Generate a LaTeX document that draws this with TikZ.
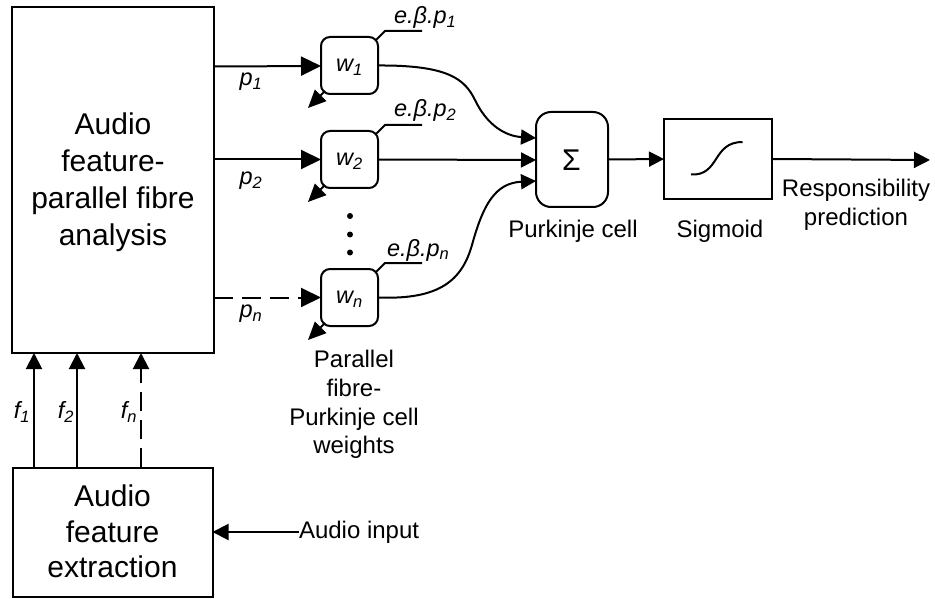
\documentclass[tikz,border=0pt]{standalone}
\usepackage{fontspec}
\setmainfont{Liberation Sans}
\usetikzlibrary{arrows.meta}
\tikzset{
  x=1pt,y=-1pt,
  every node/.style={inner sep=0pt,outer sep=0pt},
  box/.style={draw,line width=2pt,minimum width=#1},
  wbox/.style={draw,line width=2pt,rounded corners=9pt,minimum width=57pt,minimum height=57pt},
  plain/.style={line width=2pt},
  conn/.style={plain,-{Triangle[length=15pt,width=15pt]}},
  inarrow/.style={plain,-{Triangle[length=20pt,width=19pt]}},
  farrow/.style={plain,-{Triangle[length=16pt,width=16pt]}},
  smallarrow/.style={plain,-{Triangle[length=18pt,width=16pt]}},
  dashline/.style={dash pattern=on 19pt off 9pt},
  big/.style={font=\fontsize{30}{37}\selectfont,align=center},
  bigtwo/.style={font=\fontsize{30}{35.5}\selectfont,align=center},
  lab/.style={font=\fontsize{24}{28.7}\selectfont,align=center},
  sym/.style={font=\fontsize{23.5}{28}\selectfont\itshape},
}
\begin{document}
\begin{tikzpicture}
\useasboundingbox (0,0) rectangle (935,599);
\node[box=202pt,minimum height=346pt] (fa) at (113,180) {};
\node[big] at (113,182) {Audio\\feature-\\parallel fibre\\analysis};
\node[box=200pt,minimum height=129pt] (ex) at (112.5,532) {};
\node[bigtwo] at (112.5,531.5) {Audio\\feature\\extraction};
\node[wbox] (w1) at (349.5,65.5) {};
\node[sym] at (349.5,67) {w\textsubscript{1}};
\node[wbox] (w2) at (349.5,159.5) {};
\node[sym] at (349.5,161) {w\textsubscript{2}};
\node[wbox] (wn) at (349.5,297.5) {};
\node[sym] at (349.5,299) {w\textsubscript{n}};
\node[draw,line width=2pt,rounded corners=15pt,minimum width=72pt,minimum height=95pt] (sum) at (572,159.5) {};
\node[font=\fontsize{30}{34}\selectfont] at (571.5,160) {Σ};
\node[box=108pt,minimum height=80pt] (sg) at (718,159) {};
\draw[plain] (691,174.5) .. controls (720,176) and (712,142) .. (742.5,142);
% free ends
\coordinate (out) at (930,160);
\coordinate (fp1) at (214,66.5);
\coordinate (fp2) at (214,159.5);
\coordinate (fpn) at (214,297.5);
\coordinate (e1) at (321,66);
\coordinate (s1) at (536,138);
\coordinate (s2) at (536,160);
\coordinate (s3) at (536,181);
\draw[inarrow] (fp1) -- (e1);
\draw[inarrow] (fp2) -- (w2.west);
\draw[inarrow,dashline] (fpn) -- (wn.west);
\draw[conn] (w1.east) .. controls (450,65) and (465,80) .. (475,100) .. controls (487,125) and (505,136) .. (s1);
\draw[conn] (w2.east) -- (s2);
\draw[conn] (wn.east) .. controls (440,300) and (462,280) .. (472,245) .. controls (483,205) and (495,183) .. (s3);
\draw[conn] (sum.east) -- (sg.west);
\draw[farrow] (sg.east) -- (out);
% weight update stubs
\foreach \b/\y in {w1/37,w2/131,wn/269}{
  \coordinate (\b a) at (376,\y+3);
  \coordinate (\b b) at (385,\y-6);
  \coordinate (\b c) at (422,\y-6);
  \draw[plain] (\b a) -- (\b b) -- (\b c);
  \coordinate (\b d) at (325,\y+54);
  \coordinate (\b f) at (308,\y+71);
  \draw[smallarrow] (\b d) -- (\b f);
}
\node[sym,anchor=base west] at (394,24) {e.β.p\textsubscript{1}};
\node[sym,anchor=base west] at (394,117) {e.β.p\textsubscript{2}};
\node[sym,anchor=base west] at (387,256) {e.β.p\textsubscript{n}};
\node[sym] at (251,82) {p\textsubscript{1}};
\node[sym] at (251,181) {p\textsubscript{2}};
\node[sym] at (251,314) {p\textsubscript{n}};
% feature arrows
\coordinate (a1) at (34,467); \coordinate (b1) at (34,353);
\coordinate (a2) at (77,467); \coordinate (b2) at (77,353);
\coordinate (a3) at (141,467); \coordinate (b3) at (141,353);
\draw[farrow] (a1) -- (b1);
\draw[farrow] (a2) -- (b2);
\draw[farrow,dashline] (a3) -- (b3);
\node[sym] at (22,412) {f\textsubscript{1}};
\node[sym] at (66,412) {f\textsubscript{2}};
\node[sym] at (129,412) {f\textsubscript{n}};
\node[lab,anchor=west] (ai) at (299,532) {Audio input};
\draw[farrow] (ai.west) -- (ex.east |- ai.west);
\node[lab] at (573,231) {Purkinje cell};
\node[lab] at (720,231) {Sigmoid};
\node[lab] at (856,205) {Responsibility\\prediction};
\node[lab] at (354,404.5) {Parallel\\fibre-\\Purkinje cell\\weights};
\fill (350,216) circle (3pt) (350,234.5) circle (3pt) (350,252.5) circle (3pt);
\end{tikzpicture}
\end{document}
